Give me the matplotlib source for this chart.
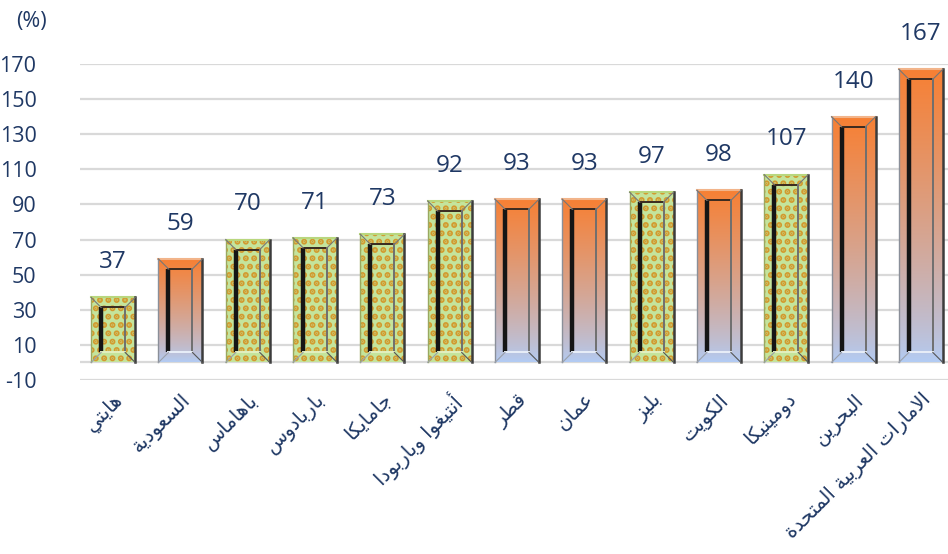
import matplotlib
matplotlib.use("Agg")
import matplotlib.pyplot as plt
from matplotlib.patches import Rectangle
import numpy as np

countries = ["هايتي", "السعودية", "باهاماس", "باربادوس", "جامايكا",
             "أنتيغوا وباربودا", "قطر", "عمان", "بليز", "الكويت",
             "دومينيكا", "البحرين", "الامارات العربية المتحدة"]
values = [37, 59, 70, 71, 73, 92, 93, 93, 97, 98, 107, 140, 167]
gulf = [False, True, False, False, False, False, True, True, False, True,
        False, True, True]
y_ticks = [-10, 10, 30, 50, 70, 90, 110, 130, 150, 170]

NAVY = "#1f3864"
plt.rcParams["hatch.linewidth"] = 3.0

# minimal arabic shaping: (isolated, final, initial, medial)
FORMS = {
    "ا": (0xFE8D, 0xFE8E, None, None), "أ": (0xFE83, 0xFE84, None, None),
    "ب": (0xFE8F, 0xFE90, 0xFE91, 0xFE92), "ة": (0xFE93, 0xFE94, None, None),
    "ت": (0xFE95, 0xFE96, 0xFE97, 0xFE98), "ج": (0xFE9D, 0xFE9E, 0xFE9F, 0xFEA0),
    "ح": (0xFEA1, 0xFEA2, 0xFEA3, 0xFEA4), "د": (0xFEA9, 0xFEAA, None, None),
    "ر": (0xFEAD, 0xFEAE, None, None), "ز": (0xFEAF, 0xFEB0, None, None),
    "س": (0xFEB1, 0xFEB2, 0xFEB3, 0xFEB4), "ط": (0xFEC1, 0xFEC2, 0xFEC3, 0xFEC4),
    "ع": (0xFEC9, 0xFECA, 0xFECB, 0xFECC), "غ": (0xFECD, 0xFECE, 0xFECF, 0xFED0),
    "ق": (0xFED5, 0xFED6, 0xFED7, 0xFED8), "ك": (0xFED9, 0xFEDA, 0xFEDB, 0xFEDC),
    "ل": (0xFEDD, 0xFEDE, 0xFEDF, 0xFEE0), "م": (0xFEE1, 0xFEE2, 0xFEE3, 0xFEE4),
    "ن": (0xFEE5, 0xFEE6, 0xFEE7, 0xFEE8), "ه": (0xFEE9, 0xFEEA, 0xFEEB, 0xFEEC),
    "و": (0xFEED, 0xFEEE, None, None), "ي": (0xFEF1, 0xFEF2, 0xFEF3, 0xFEF4),
}
LAM_ALEF = {"ا": (0xFEFB, 0xFEFC), "أ": (0xFEF7, 0xFEF8)}


def shape(text):
    out = []
    i = 0
    while i < len(text):
        c = text[i]
        if c not in FORMS:
            out.append(c)
            i += 1
            continue
        prev = text[i - 1] if i > 0 else ""
        joins_prev = prev in FORMS and FORMS[prev][2] is not None
        nxt = text[i + 1] if i + 1 < len(text) else ""
        if c == "ل" and nxt in LAM_ALEF:
            out.append(chr(LAM_ALEF[nxt][1 if joins_prev else 0]))
            i += 2
            continue
        joins_next = nxt in FORMS and FORMS[c][2] is not None
        iso, fin, ini, med = FORMS[c]
        if joins_prev and joins_next:
            code = med
        elif joins_prev:
            code = fin
        elif joins_next:
            code = ini
        else:
            code = iso
        out.append(chr(code))
        i += 1
    return "".join(out)[::-1]


fig = plt.figure(figsize=(9.48, 5.54), dpi=100)
ax_w_px, ax_h_px = 875, 316
ax = fig.add_axes([79.5 / 948, 174 / 554, ax_w_px / 948, ax_h_px / 554])
ax.set_xlim(-0.5, 12.5)
ax.set_ylim(-10, 170)
px_x = ax_w_px / 13.0
px_y = ax_h_px / 180.0

for t in y_ticks:
    ax.axhline(t, color="#d9d9d9", lw=1.6, zorder=0)
ax.axhline(0, color="#d9d9d9", lw=1.6, zorder=0)

x = np.arange(len(values))
bw = 44 / px_x
grad = np.linspace(0, 1, 256)[:, None] ** 0.8
top_c = np.array([0.97, 0.50, 0.20])
bot_c = np.array([0.70, 0.80, 0.96])
grad_img = (1 - grad)[:, :, None] * bot_c + grad[:, :, None] * top_c

for xi, v, g in zip(x, values, gulf):
    x0, x1 = xi - bw / 2, xi + bw / 2
    if g:
        rect = Rectangle((x0, 0), bw, v, facecolor="none", edgecolor="none", zorder=2)
        ax.add_patch(rect)
        im = ax.imshow(grad_img, extent=[x0, x1, 0, v], origin="lower",
                       aspect="auto", zorder=2, interpolation="bilinear")
        im.set_clip_path(rect)
    else:
        ax.add_patch(Rectangle((x0, 0), bw, v, facecolor="#c4e49c",
                               edgecolor="#d39a2e", hatch="..", lw=0, zorder=2))
    # bevel frame
    dx, dy = 10 / px_x, 10 / px_y
    ix0, ix1, iy0, iy1 = x0 + dx, x1 - dx, dy, v - dy
    ax.plot([x0, x1], [v, v], color="#f2b48a" if g else "#b9d77e", lw=1.5, zorder=3)
    ax.plot([x1, x1], [0, v], color="#3c3c3c", lw=1.8, zorder=3)
    ax.plot([x0, x0], [0, v], color="#8a8f99" if g else "#9aa860", lw=1.0, zorder=3)
    ax.plot([ix0, ix0], [iy0, iy1], color="#151515", lw=3.2, zorder=3,
            solid_capstyle="butt")
    ax.plot([ix0, ix1], [iy1, iy1], color="#3a2a20", lw=1.4, zorder=3)
    ax.plot([ix1, ix1], [iy0, iy1], color="#6f6f6f", lw=1.4, zorder=3)
    ax.plot([ix0, ix1], [iy0, iy0], color="#e8eef8" if g else "#e3f0c0", lw=1.4, zorder=3)
    ax.plot([x0, ix0], [0, iy0], color="#9aa0aa", lw=0.8, zorder=3)
    ax.plot([x1, ix1], [0, iy0], color="#555555", lw=0.8, zorder=3)
    ax.plot([x0, ix0], [v, iy1], color="#777777", lw=0.8, zorder=3)
    ax.plot([x1, ix1], [v, iy1], color="#777777", lw=0.8, zorder=3)
    ax.annotate(str(v), (xi, v), xytext=(0, 21), textcoords="offset points",
                ha="center", va="baseline", fontsize=17.5, color=NAVY,
                family=["Open Sans", "DejaVu Sans"], annotation_clip=False)

ax.set_yticks(y_ticks)
ax.set_yticklabels([str(t) for t in y_ticks], fontsize=15.5, color=NAVY,
                   family=["Open Sans", "DejaVu Sans"])
ax.set_xticks(x)
ax.set_xticklabels([shape(c) for c in countries], rotation=45, ha="right",
                   va="top", rotation_mode="anchor", fontsize=14.2, color=NAVY,
                   family="DejaVu Sans")
ax.tick_params(axis="y", length=0, pad=31)
ax.tick_params(axis="x", length=0, pad=7)
for s in ax.spines.values():
    s.set_visible(False)

fig.text(31 / 948, 1 - 21 / 554, "(%)", ha="center", va="center", fontsize=15.5,
         color=NAVY, family=["Open Sans", "DejaVu Sans"])

fig.savefig("out.png", dpi=100)
